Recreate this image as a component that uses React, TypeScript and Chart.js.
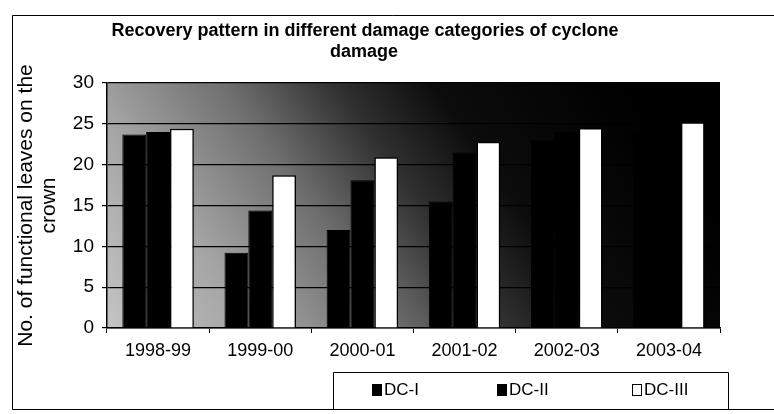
import React, { useEffect, useRef } from "react";
import { Chart, registerables } from "chart.js";

Chart.register(...registerables);

const categories = ["1998-99", "1999-00", "2000-01", "2001-02", "2002-03", "2003-04"];
const seriesLabels = ["DC-I", "DC-II", "DC-III"];
const dc1 = [23.7, 9.2, 12.0, 15.5, 23.0, 24.0];
const dc2 = [24.0, 14.4, 18.1, 21.5, 24.0, 24.5];
const dc3 = [24.4, 18.7, 20.9, 22.8, 24.5, 25.2];
const titleLines = ["Recovery pattern in different damage categories of cyclone", "damage"];
const yTitleLines = ["No. of functional leaves on the", "crown"];
const yTicks = [0, 5, 10, 15, 20, 25, 30];

const FONT = "'Liberation Sans', Arial, sans-serif";

const backgroundPlugin = {
  id: "bgGradient",
  beforeDraw(chart: any) {
    const { ctx, chartArea } = chart;
    if (!chartArea) return;
    const { left, right, top, bottom } = chartArea;
    ctx.save();
    ctx.fillStyle = "#ffffff";
    ctx.fillRect(0, 0, chart.width, chart.height);
    const g = ctx.createLinearGradient(left, bottom, right - 150, top - 80);
    g.addColorStop(0, "#c4c4c4");
    g.addColorStop(0.22, "#a4a4a4");
    g.addColorStop(0.42, "#6e6e6e");
    g.addColorStop(0.58, "#303030");
    g.addColorStop(0.72, "#0c0c0c");
    g.addColorStop(1, "#000000");
    ctx.fillStyle = g;
    ctx.fillRect(left, top, right - left, bottom - top);
    ctx.restore();
  },
};

const decorPlugin = {
  id: "decor",
  afterDraw(chart: any) {
    const { ctx } = chart;
    ctx.save();
    ctx.strokeStyle = "#000";
    ctx.lineWidth = 1;
    ctx.beginPath();
    ctx.moveTo(774, 15.5);
    ctx.lineTo(12.5, 15.5);
    ctx.lineTo(12.5, 409.5);
    ctx.lineTo(774, 409.5);
    ctx.stroke();
    ctx.fillStyle = "#000";
    ctx.textAlign = "center";
    ctx.textBaseline = "middle";
    ctx.font = "bold 18px " + FONT;
    ctx.fillText(titleLines[0], 365, 31);
    ctx.fillText(titleLines[1], 364, 52);
    ctx.beginPath();
    ctx.rect(333.5, 372.5, 395, 37);
    ctx.fillStyle = "#fff";
    ctx.fill();
    ctx.stroke();
    const itemX = [372, 497, 632];
    const ds = chart.data.datasets;
    ctx.font = "17px " + FONT;
    ctx.textAlign = "left";
    ds.forEach((d: any, i: number) => {
      const x = itemX[i];
      const y = 390;
      ctx.fillStyle = d.backgroundColor;
      ctx.fillRect(x, y - 6, 10, 12);
      ctx.strokeStyle = "#000";
      ctx.strokeRect(x + 0.5, y - 5.5, 9, 11);
      ctx.fillStyle = "#000";
      ctx.fillText(d.label, x + 12, y);
    });
    ctx.restore();
  },
};

export default function App() {
  const ref = useRef<HTMLCanvasElement | null>(null);
  useEffect(() => {
    document.body.style.margin = "0";
    const canvas = ref.current!;
    const chart = new Chart(canvas, {
      type: "bar",
      data: {
        labels: categories,
        datasets: [
          { label: seriesLabels[0], data: dc1, backgroundColor: "#000000", borderColor: "#000", borderWidth: 1 },
          { label: seriesLabels[1], data: dc2, backgroundColor: "#000000", borderColor: "#000", borderWidth: 1 },
          { label: seriesLabels[2], data: dc3, backgroundColor: "#ffffff", borderColor: "#000", borderWidth: 1.5 },
        ],
      },
      options: {
        responsive: false,
        animation: false,
        devicePixelRatio: 1,
        layout: { padding: { top: 83, right: 54, bottom: 0, left: 0 } },
        datasets: { bar: { categoryPercentage: 0.7, barPercentage: 1.0 } },
        plugins: {
          legend: { display: false },
          title: { display: false },
          tooltip: { enabled: false },
        },
        scales: {
          x: {
            grid: { display: true, drawOnChartArea: false, color: "#000", tickLength: 5, offset: true },
            border: { display: true, color: "#000", width: 1.5 },
            ticks: { color: "#000", font: { family: FONT, size: 18 }, padding: 7, maxRotation: 0 },
            afterFit: (s: any) => { s.height = 86; },
          },
          y: {
            min: 0,
            max: 30,
            afterBuildTicks: (s: any) => { s.ticks = yTicks.map((v) => ({ value: v })); },
            grid: { color: "#000", lineWidth: 1.2, tickLength: 5 },
            border: { display: true, color: "#000", width: 1.5 },
            ticks: { color: "#000", font: { family: FONT, size: 19 }, padding: 8 },
            title: {
              display: true,
              text: yTitleLines,
              color: "#000",
              font: { family: FONT, size: 21, lineHeight: 1.1 },
              padding: { top: 15, bottom: 0 },
            },
            afterFit: (s: any) => { s.width = 107; },
          },
        },
      },
      plugins: [backgroundPlugin, decorPlugin],
    });
    return () => chart.destroy();
  }, []);
  return (
    <div style={{ position: "absolute", left: 0, top: 0, width: 774, height: 414 }}>
      <canvas ref={ref} width={774} height={414} style={{ width: 774, height: 414 }} />
    </div>
  );
}
